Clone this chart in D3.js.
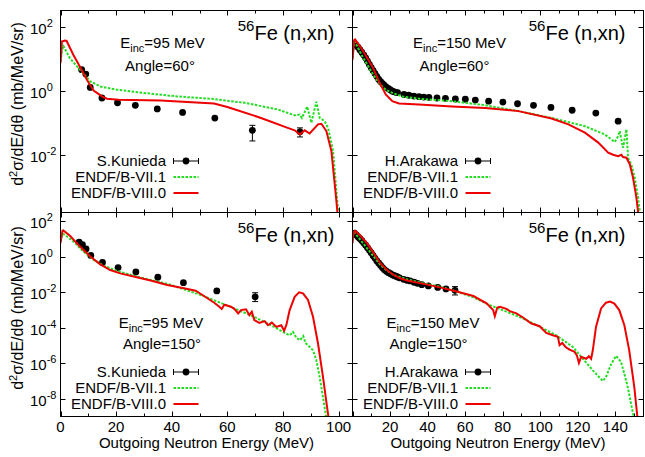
<!DOCTYPE html>
<html>
<head>
<meta charset="utf-8">
<script src="https://cdn.jsdelivr.net/npm/d3@7"></script>
<style>
  body { margin: 0; background: #fff; }
  svg { display: block; }
  text { font-family: "Liberation Sans", Arial, Helvetica, sans-serif; fill: #000; }
</style>
</head>
<body>
<svg id="chart" width="645" height="457"></svg>
<script>
// ---------- 56Fe(n,xn) double-differential cross sections ----------

// Einc = 95 MeV, 60 deg : measurement (S.Kunieda)
const kunieda60E  = [7.6, 9.1, 10.7, 14.9, 20.5, 26.9, 34.8, 43.9, 55.5, 69.0, 86.1];
const kunieda60Y  = [4.5, 3.3, 1.26, 0.59, 0.42, 0.35, 0.27, 0.21, 0.14, 0.058, 0.052];
const kunieda60Lo = [4.2, 3.1, 1.18, 0.55, 0.39, 0.33, 0.25, 0.195, 0.13, 0.027, 0.036];
const kunieda60Hi = [4.8, 3.5, 1.34, 0.63, 0.45, 0.37, 0.29, 0.225, 0.15, 0.083, 0.069];
// Einc = 95 MeV, 60 deg : ENDF/B-VII.1
const vii95a60E = [0, 0.8, 1.0, 3.4, 7.0, 10.7, 14.3, 20.3, 29.9, 42, 54, 66.1, 78.1, 84.2, 86.0, 86.8, 88.7, 90.2, 92.0, 93.2, 95.0, 96.2, 98.0, 99.8, 100.1];
const vii95a60Y = [8.1, 24, 25, 10.2, 4.5, 1.95, 1.35, 1.07, 0.85, 0.66, 0.56, 0.42, 0.26, 0.17, 0.18, 0.141, 0.32, 0.10, 0.45, 0.141, 0.112, 0.069, 0.0132, 1.8e-4, 1.2e-4];
// Einc = 95 MeV, 60 deg : ENDF/B-VIII.0
const viii95a60E = [0, 0.5, 1.6, 2.2, 4.6, 7.6, 9.5, 11.9, 14.9, 16.7, 20.9, 36, 55.2, 60, 72.1, 81.7, 84.2, 86.1, 87.8, 89.6, 92.6, 93.8, 95.6, 97.4, 99.2, 99.7];
const viii95a60Y = [7.2, 33.9, 36.3, 35.5, 13.2, 4.47, 2.19, 1.0, 0.66, 0.56, 0.52, 0.49, 0.40, 0.31, 0.141, 0.069, 0.058, 0.043, 0.058, 0.046, 0.089, 0.093, 0.055, 0.0132, 3.7e-4, 1.2e-4];

// Einc = 150 MeV, 60 deg : measurement (H.Arakawa)
const arakawa60E = [1, 2, 3, 4, 5, 6, 7, 8, 9, 10, 11, 12, 13, 14, 15, 16, 17, 18, 19, 20, 21, 22, 23, 24,
                    27.4, 30, 32.7, 35.4, 38, 40.7, 45, 49.5, 54.8, 60.1, 65.4, 72.5, 80.1, 87.9, 96.4, 105.7, 117, 129.6, 141.5];
const arakawa60Y = [29.5, 25.7, 22.4, 18.6, 15.5, 12.9, 10.5, 8.3, 6.6, 5.2, 4.2, 3.4, 2.75, 2.24, 1.9, 1.66, 1.45, 1.29, 1.17, 1.07, 0.98, 0.93, 0.89, 0.87,
                    0.76, 0.72, 0.68, 0.65, 0.63, 0.62, 0.59, 0.575, 0.55, 0.54, 0.51, 0.47, 0.44, 0.39, 0.35, 0.30, 0.245, 0.20, 0.112];
// Einc = 150 MeV, 60 deg : ENDF/B-VII.1
const vii150a60E = [0, 0.9, 1.2, 5.3, 10.6, 14.1, 17.7, 21.2, 26.5, 35.4, 53, 70.7, 88.4, 106, 123.8, 134.4, 139.7, 141.5, 142.3, 144.1, 145.9, 146.8, 148.5, 150.3, 152.1, 153.3];
const vii150a60Y = [10.2, 30, 34, 11.7, 3.5, 1.74, 1.07, 0.85, 0.66, 0.56, 0.47, 0.35, 0.23, 0.141, 0.078, 0.043, 0.025, 0.038, 0.055, 0.0166, 0.062, 0.0079, 0.005, 0.00195, 4.7e-4, 1.2e-4];
// Einc = 150 MeV, 60 deg : ENDF/B-VIII.0
const viii150a60E = [0, 0.9, 1.4, 5.3, 10.6, 14.1, 17.7, 21.2, 24.8, 35.4, 53, 70.7, 88.4, 106, 115, 123.8, 130.9, 136.2, 138.8, 141.5, 143.2, 144.1, 145.9, 147.7, 149.4, 151.2, 152.4];
const viii150a60Y = [9.1, 38, 39.8, 18.6, 5.6, 1.95, 0.76, 0.47, 0.40, 0.37, 0.32, 0.29, 0.23, 0.135, 0.089, 0.049, 0.024, 0.0117, 0.010, 0.0091, 0.010, 0.0085, 0.0081, 0.0051, 0.00195, 4.7e-4, 1.2e-4];

// Einc = 95 MeV, 150 deg : measurement (S.Kunieda)
const kunieda150E  = [6.7, 7.9, 9.2, 10.9, 15.1, 20.7, 27.1, 35.0, 44.2, 56.2, 70.0];
const kunieda150Y  = [6.8, 4.8, 2.8, 1.2, 0.48, 0.25, 0.14, 0.071, 0.035, 0.012, 0.0056];
const kunieda150Lo = [6.3, 4.5, 2.6, 1.1, 0.45, 0.23, 0.13, 0.065, 0.032, 0.010, 0.0030];
const kunieda150Hi = [7.3, 5.1, 3.0, 1.3, 0.51, 0.27, 0.15, 0.077, 0.038, 0.014, 0.0095];
// Einc = 95 MeV, 150 deg : ENDF/B-VII.1
const vii95a150E = [0, 0.7, 1.6, 4.6, 8.2, 11.9, 15.5, 20.3, 26.3, 32.4, 38.4, 44.4, 50.4, 56.5, 62.5, 68.5, 74.6, 80.6, 82.4, 83.6, 84.8, 86.1, 87.3, 88.1, 89.6, 90.8, 92.0, 93.2, 94.4, 95.7];
const vii95a150Y = [7.4, 20, 17.4, 7.4, 2.0, 0.68, 0.32, 0.162, 0.087, 0.050, 0.030, 0.0148, 0.0071, 0.0030, 0.00123, 5.0e-4, 1.74e-4, 5.2e-5, 3.8e-5, 5.9e-5, 2.8e-5, 2.0e-5, 3.4e-5, 1.4e-5, 8.3e-6, 5.4e-6, 1.5e-6, 1.66e-7, 1.2e-8, 6.3e-10];
// Einc = 95 MeV, 150 deg : ENDF/B-VIII.0
const viii95a150E = [0, 0.7, 1.0, 3.4, 7.0, 10.7, 14.3, 17.9, 21.5, 26.3, 32.4, 38.4, 44.4, 48.6, 51.6, 55.3, 57.1, 58.0, 58.9, 61.3, 62.5, 63.9, 64.9, 66.7, 67.9, 68.8, 69.7, 71.5, 73.4, 74.6, 76.0, 77.6, 79.4, 80.4, 81.2, 82.4, 84.2, 85.8, 87.2, 89.0, 90.8, 92.6, 94.4, 95.7, 96.5];
const viii95a150Y = [5.9, 29.5, 30.9, 15.5, 3.8, 1.05, 0.38, 0.18, 0.117, 0.078, 0.046, 0.026, 0.017, 0.0123, 0.0062, 0.0026, 0.00155, 0.00115, 0.0020, 0.00155, 0.00117, 6.5e-4, 1.0e-3, 1.1e-3, 5.2e-4, 8.1e-4, 2.7e-4, 1.9e-4, 2.4e-4, 1.4e-4, 2.0e-4, 1.12e-4, 1.4e-4, 6.8e-5, 1.4e-4, 1.0e-3, 5.6e-3, 0.010, 8.7e-3, 3.7e-3, 4.2e-4, 1.3e-5, 1.66e-7, 5.2e-9, 6.3e-10];

// Einc = 150 MeV, 150 deg : measurement (H.Arakawa)
const arakawa150E = [1, 2, 3, 4, 5, 6, 7, 8, 9, 10, 11, 12, 13, 14, 15, 16, 17, 18, 19, 20, 21, 22, 23, 24, 25,
                     27.2, 29.0, 30.7, 32.8, 34.6, 36.9, 40.4, 45.4, 49.8, 54.6];
const arakawa150Y = [21.9, 17, 13.2, 10.5, 8.1, 6.0, 4.5, 3.3, 2.34, 1.66, 1.17, 0.83, 0.59, 0.44, 0.33, 0.245, 0.19, 0.155, 0.132, 0.115, 0.100, 0.089, 0.081, 0.074, 0.066,
                     0.054, 0.048, 0.044, 0.037, 0.032, 0.027, 0.023, 0.019, 0.0155, 0.0129];
const arakawa150Lo = arakawa150Y.map((v, i) => i === arakawa150Y.length - 1 ? 0.0071 : v * 0.9);
const arakawa150Hi = arakawa150Y.map((v, i) => i === arakawa150Y.length - 1 ? 0.021 : v * 1.1);
// Einc = 150 MeV, 150 deg : ENDF/B-VII.1
const vii150a150E = [0, 0.3, 1.0, 4.2, 7.7, 11.3, 14.8, 18.3, 21.9, 29, 37.8, 46.6, 55.5, 64.4, 73.2, 82, 90.8, 99.7, 108.5, 117.4, 122.7, 128, 133.3, 135, 137.7, 140.4, 143, 144.8, 146.6, 148.4, 150.1];
const vii150a150Y = [8, 17.8, 24, 9.1, 3.1, 1.05, 0.355, 0.17, 0.095, 0.054, 0.032, 0.021, 0.011, 0.0052, 0.0019, 8.1e-4, 3.4e-4, 1.15e-4, 3.8e-5, 8.3e-6, 1.8e-6, 4.0e-7, 1e-7, 1.66e-7, 8.7e-7, 2.6e-6, 1.2e-6, 2.6e-7, 4.6e-8, 5.1e-9, 6.3e-10];
// Einc = 150 MeV, 150 deg : ENDF/B-VIII.0
const viii150a150E = [0, 0.3, 1.0, 1.5, 4.2, 7.7, 11.3, 14.8, 18.3, 21.9, 25.4, 29, 37.8, 46.6, 55.5, 64.4, 71.4, 74.9, 75.8, 77.1, 78.5, 82, 83.8, 87.3, 90.8, 95.3, 99.7, 103.2, 106.7, 109.4, 110.3, 111.7, 113.5, 115.6, 118.3, 119.5, 120.6, 121.8, 124.5, 125.9, 127.1, 128, 129.7, 132.4, 135, 137.2, 139.5, 142.1, 144.8, 147.4, 150.1, 151.9];
const viii150a150Y = [6, 14.1, 26.9, 29.5, 15.5, 5.9, 1.62, 0.44, 0.18, 0.095, 0.062, 0.046, 0.030, 0.019, 0.011, 0.0062, 0.0024, 0.001, 4.5e-4, 0.0014, 0.00155, 0.00117, 8.7e-4, 6.5e-4, 3.8e-4, 1.74e-4, 1.23e-4, 5.1e-5, 3.8e-5, 3.1e-5, 1.05e-5, 1.4e-5, 8.3e-6, 5.9e-6, 4.4e-6, 2.8e-6, 1.05e-6, 2.3e-6, 1.8e-6, 2.5e-6, 1.8e-6, 5.4e-6, 1.12e-4, 1.23e-3, 2.6e-3, 3.0e-3, 2.3e-3, 1e-3, 1.4e-4, 5.4e-6, 4.6e-8, 6.3e-10];

// Axis ticks
const xTicksLeft  = [0, 20, 40, 60, 80, 100];
const xTicksRight = [20, 40, 60, 80, 100, 120, 140];
const yExpTop    = [2, 0, -2];
const yExpBottom = [2, 0, -2, -4, -6, -8];

// Labels
const seriesNames = ["ENDF/B-VII.1", "ENDF/B-VIII.0"];
const incEnergies = ["95", "150"];
const angles = ["60", "150"];

// ---------- layout ----------
const svg = d3.select("#chart");
const COLS = [{x0: 60.5, x1: 352.5, xmax: 105}, {x0: 352.5, x1: 643.5, xmax: 155}];
const ROWS = [{y0: 10.5, y1: 212.5, ymin: Math.pow(10, -3.8), ymax: Math.pow(10, 2.5), titleY: 104},
              {y0: 212.5, y1: 416.5, ymin: 1e-9, ymax: Math.pow(10, 2.5), titleY: 308}];
const GREEN = "#22dd22", RED = "#ee0000";
const FONT = 15;

const zip = (E, Y) => E.map((e, i) => [e, Y[i]]);

const panels = [
  { c: 0, r: 0, expName: "S.Kunieda", exp: {E: kunieda60E, Y: kunieda60Y, lo: kunieda60Lo, hi: kunieda60Hi},
    vii: zip(vii95a60E, vii95a60Y), viii: zip(viii95a60E, viii95a60Y), einc: incEnergies[0], angle: angles[0],
    einX: 102, einY: 48, angX: 99.5, angY: 71, legY: [166, 182, 198] },
  { c: 1, r: 0, expName: "H.Arakawa", exp: {E: arakawa60E, Y: arakawa60Y, lo: null, hi: null},
    vii: zip(vii150a60E, vii150a60Y), viii: zip(viii150a60E, viii150a60Y), einc: incEnergies[1], angle: angles[0],
    einX: 107, einY: 48, angX: 102, angY: 71, legY: [166, 182, 198] },
  { c: 0, r: 1, expName: "S.Kunieda", exp: {E: kunieda150E, Y: kunieda150Y, lo: kunieda150Lo, hi: kunieda150Hi},
    vii: zip(vii95a150E, vii95a150Y), viii: zip(viii95a150E, viii95a150Y), einc: incEnergies[0], angle: angles[1],
    einX: 100.5, einY: 328, angX: 101.5, angY: 349, legY: [377, 393, 409] },
  { c: 1, r: 1, expName: "H.Arakawa", exp: {E: arakawa150E, Y: arakawa150Y, lo: arakawa150Lo, hi: arakawa150Hi},
    vii: zip(vii150a150E, vii150a150Y), viii: zip(viii150a150E, viii150a150Y), einc: incEnergies[1], angle: angles[1],
    einX: 80.5, einY: 327.5, angX: 76, angY: 348.5, legY: [377, 393, 409] }
];

const defs = svg.append("defs");

panels.forEach((p, idx) => {
  const col = COLS[p.c], row = ROWS[p.r];
  const x = d3.scaleLinear().domain([0, col.xmax]).range([col.x0, col.x1]);
  const y = d3.scaleLog().domain([row.ymin, row.ymax]).range([row.y1, row.y0]);
  const g = svg.append("g");

  const clipId = "clip" + idx;
  defs.append("clipPath").attr("id", clipId).append("rect")
    .attr("x", col.x0).attr("y", row.y0).attr("width", col.x1 - col.x0).attr("height", row.y1 - row.y0);

  const plot = g.append("g").attr("clip-path", `url(#${clipId})`);
  const line = d3.line().x(d => x(d[0])).y(d => y(d[1]));

  // measured points with error bars
  const pts = p.exp.E.map((e, i) => ({e, v: p.exp.Y[i], lo: p.exp.lo ? p.exp.lo[i] : p.exp.Y[i], hi: p.exp.hi ? p.exp.hi[i] : p.exp.Y[i]}));
  const eb = plot.append("g").attr("stroke", "#000").attr("stroke-width", 1);
  pts.filter(d => y(d.lo) - y(d.hi) > 4).forEach(d => {
    eb.append("line").attr("x1", x(d.e)).attr("x2", x(d.e)).attr("y1", y(d.lo)).attr("y2", y(d.hi));
    eb.append("line").attr("x1", x(d.e) - 3).attr("x2", x(d.e) + 3).attr("y1", y(d.lo)).attr("y2", y(d.lo));
    eb.append("line").attr("x1", x(d.e) - 3).attr("x2", x(d.e) + 3).attr("y1", y(d.hi)).attr("y2", y(d.hi));
  });
  plot.append("g").selectAll("circle").data(pts).join("circle")
    .attr("cx", d => x(d.e)).attr("cy", d => y(d.v)).attr("r", 3.4).attr("fill", "#000");

  // evaluations
  plot.append("path").datum(p.vii).attr("d", line).attr("fill", "none")
    .attr("stroke", GREEN).attr("stroke-width", 2).attr("stroke-dasharray", "2.5,1.5");
  plot.append("path").datum(p.viii).attr("d", line).attr("fill", "none")
    .attr("stroke", RED).attr("stroke-width", 2);

  // frame
  g.append("rect").attr("x", col.x0).attr("y", row.y0).attr("width", col.x1 - col.x0).attr("height", row.y1 - row.y0)
    .attr("fill", "none").attr("stroke", "#000").attr("stroke-width", 1);

  // ticks (inward, mirrored)
  const tk = g.append("g").attr("stroke", "#000").attr("stroke-width", 1);
  for (let v = 0; v <= col.xmax; v += 10) {
    const len = v % 20 === 0 ? 5 : 3;
    const xx = Math.round(x(v)) + 0.5;
    tk.append("line").attr("x1", xx).attr("x2", xx).attr("y1", row.y1).attr("y2", row.y1 - len);
    tk.append("line").attr("x1", xx).attr("x2", xx).attr("y1", row.y0).attr("y2", row.y0 + len);
  }
  const exps = p.r === 0 ? yExpTop : yExpBottom;
  exps.forEach(k => {
    const yy = Math.round(y(Math.pow(10, k))) + 0.5;
    tk.append("line").attr("x1", col.x0).attr("x2", col.x0 + 5).attr("y1", yy).attr("y2", yy);
    tk.append("line").attr("x1", col.x1).attr("x2", col.x1 - 5).attr("y1", yy).attr("y2", yy);
  });

  // y tick labels on left column
  if (p.c === 0) {
    exps.forEach(k => {
      const yy = y(Math.pow(10, k));
      const t = g.append("text").attr("x", 30).attr("y", yy + 7).attr("font-size", FONT);
      t.append("tspan").text("10");
      t.append("tspan").attr("dy", -7).attr("font-size", 11).text(k < 0 ? "-" + (-k) : String(k));
    });
    // y axis title
    const t = g.append("text").attr("transform", `translate(23,${row.titleY}) rotate(-90)`)
      .attr("text-anchor", "middle").attr("font-size", 16);
    t.append("tspan").text("d");
    t.append("tspan").attr("dy", -6).attr("font-size", 11).text("2");
    t.append("tspan").attr("dy", 6).text("σ/dE/dθ (mb/MeV/sr)");
  }

  // x tick labels and title on bottom row
  if (p.r === 1) {
    const ticks = p.c === 0 ? xTicksLeft : xTicksRight;
    g.selectAll(null).data(ticks).join("text")
      .attr("x", d => x(d)).attr("y", 432).attr("text-anchor", "middle").attr("font-size", FONT).text(d => d);
    g.append("text").attr("x", (col.x0 + col.x1) / 2).attr("y", 448).attr("text-anchor", "middle")
      .attr("font-size", FONT).text("Outgoing Neutron Energy (MeV)");
  }

  // nucleus / reaction label
  const fe = g.append("text").attr("x", col.x1 - 18).attr("y", row.y0 + 29.5).attr("text-anchor", "end").attr("font-size", 20);
  fe.append("tspan").attr("font-size", 15).attr("dy", -9).text("56");
  fe.append("tspan").attr("dy", 9).text("Fe (n,xn)");

  // incident energy and angle
  const ei = g.append("text").attr("x", col.x0 + p.einX).attr("y", p.einY).attr("text-anchor", "middle").attr("font-size", FONT);
  ei.append("tspan").text("E");
  ei.append("tspan").attr("font-size", 11).attr("dy", 4).text("inc");
  ei.append("tspan").attr("dy", -4).text(`=${p.einc} MeV`);
  g.append("text").attr("x", col.x0 + p.angX).attr("y", p.angY).attr("text-anchor", "middle").attr("font-size", FONT)
    .text(`Angle=${p.angle}°`);

  // legend
  const lx = col.x0 + 105.5, s0 = col.x0 + 113, s1 = col.x0 + 138;
  const names = [p.expName, seriesNames[0], seriesNames[1]];
  names.forEach((n, i) => {
    g.append("text").attr("x", lx).attr("y", p.legY[i]).attr("text-anchor", "end").attr("font-size", FONT).text(n);
  });
  const ly = p.legY.map(v => v - 5);
  const lg = g.append("g");
  lg.append("line").attr("x1", s0).attr("x2", s1).attr("y1", ly[0]).attr("y2", ly[0]).attr("stroke", "#000");
  lg.append("line").attr("x1", s0).attr("x2", s0).attr("y1", ly[0] - 3).attr("y2", ly[0] + 3).attr("stroke", "#000");
  lg.append("line").attr("x1", s1).attr("x2", s1).attr("y1", ly[0] - 3).attr("y2", ly[0] + 3).attr("stroke", "#000");
  lg.append("circle").attr("cx", (s0 + s1) / 2).attr("cy", ly[0]).attr("r", 3.4).attr("fill", "#000");
  lg.append("line").attr("x1", s0).attr("x2", s1).attr("y1", ly[1]).attr("y2", ly[1])
    .attr("stroke", GREEN).attr("stroke-width", 2).attr("stroke-dasharray", "2.5,1.5");
  lg.append("line").attr("x1", s0).attr("x2", s1).attr("y1", ly[2]).attr("y2", ly[2])
    .attr("stroke", RED).attr("stroke-width", 2);
});
</script>
</body>
</html>
